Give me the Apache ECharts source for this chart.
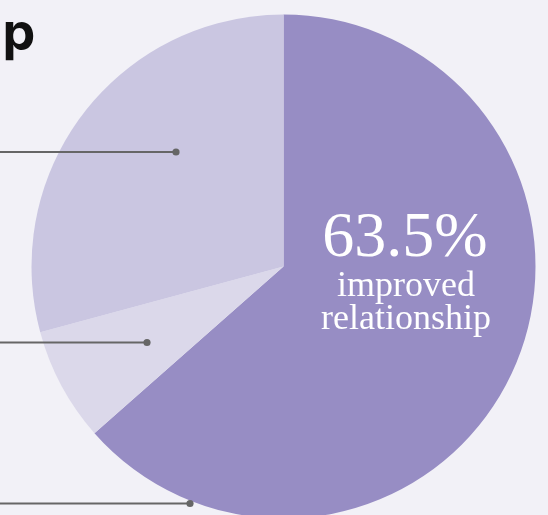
<!DOCTYPE html>
<html>
<head>
<meta charset="utf-8">
<script src="https://cdn.jsdelivr.net/npm/echarts@6/dist/echarts.min.js"></script>
<style>
html,body{margin:0;padding:0;background:#f2f1f7;}
#c{width:548px;height:515px;}
</style>
</head>
<body>
<div id="c"></div>
<script>
// Data
const categories = ['improved relationship', 'other (small)', 'other (large)'];
const values = [63.5, 7.3, 29.2];
const colors = ['#978dc4', '#dbd8ea', '#cac6e1'];
const titleText = 'p';
const highlightLabel = ['improved', 'relationship'];

const chart = echarts.init(document.getElementById('c'), null, {renderer: 'canvas'});

const cx = 283.5, cy = 266.5, R = 252;
const dotColor = '#666666';
// leader lines (annotation callouts to off-canvas labels)
const callouts = [
  {y: 152, x: 176},
  {y: 342.5, x: 147},
  {y: 503.5, x: 190}
];

const option = {
  backgroundColor: '#f2f1f7',
  animation: false,
  series: [{
    type: 'pie',
    center: [cx, cy],
    radius: R,
    startAngle: 90,
    clockwise: true,
    silent: true,
    label: {show: false},
    labelLine: {show: false},
    data: categories.map((c, i) => ({name: c, value: values[i], itemStyle: {color: colors[i]}}))
  }],
  graphic: [
    {type:'text', z:10, x: 2.5, y: 60,
      style:{text: titleText, fill:'#111111', font:'bold 52px Inter', textAlign:'left', textVerticalAlign:'bottom'}},
    ...callouts.flatMap(c => [
      {type:'line', z:10, shape:{x1:0, y1:c.y, x2:c.x, y2:c.y}, style:{stroke:dotColor, lineWidth:1.8}},
      {type:'circle', z:10, shape:{cx:c.x, cy:c.y, r:3.6}, style:{fill:dotColor}}
    ]),
    {type:'text', z:10, x: 405, y: 271,
      style:{text: values[0] + '%', fill:'#ffffff', font:'64px "Liberation Serif"', textAlign:'center', textVerticalAlign:'bottom'}},
    {type:'text', z:10, x: 406, y: 305,
      style:{text: highlightLabel[0], fill:'#ffffff', font:'36px "Liberation Serif"', textAlign:'center', textVerticalAlign:'bottom'}},
    {type:'text', z:10, x: 406, y: 338,
      style:{text: highlightLabel[1], fill:'#ffffff', font:'36px "Liberation Serif"', textAlign:'center', textVerticalAlign:'bottom'}}
  ]
};
chart.setOption(option);
</script>
</body>
</html>
